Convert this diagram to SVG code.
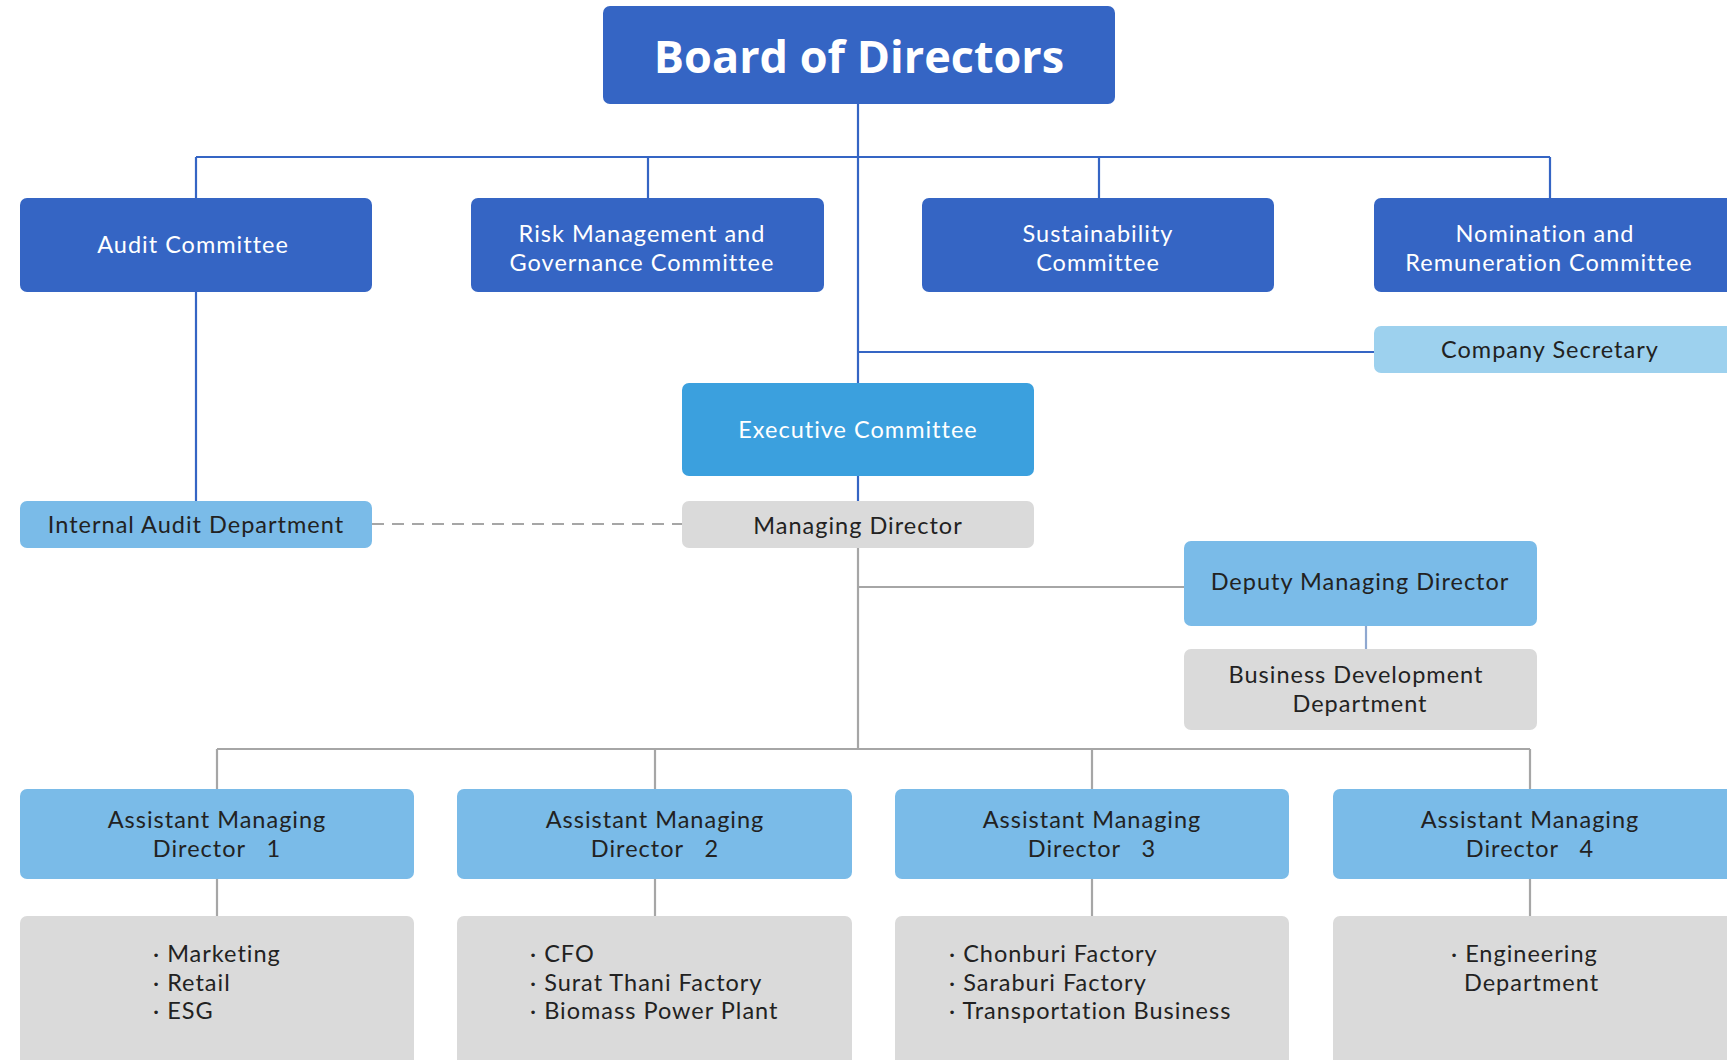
<svg xmlns="http://www.w3.org/2000/svg" width="1727" height="1060" viewBox="0 0 1727 1060">
<style>
.t{font-family:Lato,"Open Sans","Liberation Sans",sans-serif;font-size:23.5px;letter-spacing:1px;text-anchor:middle;white-space:pre}
.w{fill:#ffffff}
.d{fill:#222222}
.l{text-anchor:start}
.dark{fill:#3565C4}
.exec{fill:#3BA0DE}
.lb{fill:#7ABBE8}
.cs{fill:#9DD1EE}
.g{fill:#DADADA}
.bl{stroke:#3565C4;stroke-width:2.2;fill:none}
.gl{stroke:#A6A6A6;stroke-width:2.2;fill:none}
</style>
<rect width="1727" height="1060" fill="#ffffff"/>
<g id="connectors">
<path class="bl" d="M858 104V383M196 157H1550M196 157V198M648 157V198M1099 157V198M1550 157V198M196 292V501M858 352H1374M858 476V501"/>
<path class="gl" d="M858 548V749M858 587H1184M217 749H1530M217 749V789M655 749V789M1092 749V789M1530 749V789M217 879V916M655 879V916M1092 879V916M1530 879V916"/>
<path d="M1366 626V649" stroke="#8FA8D0" stroke-width="2.2"/>
<path d="M372 524H682" stroke="#A6A6A6" stroke-width="2.2" stroke-dasharray="12 8"/>
</g>
<g id="board"><rect class="dark" x="603" y="6" width="512" height="98" rx="7"/><text x="859" y="73" style="font-family:'Open Sans','Liberation Sans',sans-serif;font-size:45px;font-weight:700;fill:#fff;text-anchor:middle">Board of Directors</text></g>
<g id="audit-committee"><rect class="dark" x="20" y="198" width="352" height="94" rx="7"/><text class="t w" x="193" y="253">Audit Committee</text></g>
<g id="risk-committee"><rect class="dark" x="471" y="198" width="353" height="94" rx="7"/><text class="t w" x="642" y="242">Risk Management and</text><text class="t w" x="642" y="271">Governance Committee</text></g>
<g id="sustainability-committee"><rect class="dark" x="922" y="198" width="352" height="94" rx="7"/><text class="t w" x="1098" y="242">Sustainability</text><text class="t w" x="1098" y="271">Committee</text></g>
<g id="nomination-committee"><rect class="dark" x="1374" y="198" width="360" height="94" rx="7"/><text class="t w" x="1545" y="242">Nomination and</text><text class="t w" x="1549" y="271">Remuneration Committee</text></g>
<g id="company-secretary"><rect class="cs" x="1374" y="326" width="360" height="47" rx="7"/><text class="t d" x="1550" y="358">Company Secretary</text></g>
<g id="executive-committee"><rect class="exec" x="682" y="383" width="352" height="93" rx="7"/><text class="t w" x="858" y="438">Executive Committee</text></g>
<g id="internal-audit"><rect class="lb" x="20" y="501" width="352" height="47" rx="7"/><text class="t d" x="196" y="533">Internal Audit Department</text></g>
<g id="managing-director"><rect class="g" x="682" y="501" width="352" height="47" rx="7"/><text class="t d" x="858" y="534">Managing Director</text></g>
<g id="deputy-md"><rect class="lb" x="1184" y="541" width="353" height="85" rx="7"/><text class="t d" x="1360" y="590">Deputy Managing Director</text></g>
<g id="business-development"><rect class="g" x="1184" y="649" width="353" height="81" rx="7"/><text class="t d" x="1356" y="683">Business Development</text><text class="t d" x="1360" y="712">Department</text></g>
<g id="amd1"><rect class="lb" x="20" y="789" width="394" height="90" rx="7"/><text class="t d" x="217" y="828">Assistant Managing</text><text class="t d" x="217" y="857">Director   1</text></g>
<g id="amd2"><rect class="lb" x="457" y="789" width="395" height="90" rx="7"/><text class="t d" x="655" y="828">Assistant Managing</text><text class="t d" x="655" y="857">Director   2</text></g>
<g id="amd3"><rect class="lb" x="895" y="789" width="394" height="90" rx="7"/><text class="t d" x="1092" y="828">Assistant Managing</text><text class="t d" x="1092" y="857">Director   3</text></g>
<g id="amd4"><rect class="lb" x="1333" y="789" width="400" height="90" rx="7"/><text class="t d" x="1530" y="828">Assistant Managing</text><text class="t d" x="1530" y="857">Director   4</text></g>
<g id="list1"><rect class="g" x="20" y="916" width="394" height="160" rx="7"/><text class="t d l" x="153" y="962">· Marketing</text><text class="t d l" x="153" y="991">· Retail</text><text class="t d l" x="153" y="1019">· ESG</text></g>
<g id="list2"><rect class="g" x="457" y="916" width="395" height="160" rx="7"/><text class="t d l" x="530" y="962">· CFO</text><text class="t d l" x="530" y="991">· Surat Thani Factory</text><text class="t d l" x="530" y="1019">· Biomass Power Plant</text></g>
<g id="list3"><rect class="g" x="895" y="916" width="394" height="160" rx="7"/><text class="t d l" x="949" y="962">· Chonburi Factory</text><text class="t d l" x="949" y="991">· Saraburi Factory</text><text class="t d l" x="949" y="1019">· Transportation Business</text></g>
<g id="list4"><rect class="g" x="1333" y="916" width="400" height="160" rx="7"/><text class="t d l" x="1451" y="962">· Engineering</text><text class="t d l" x="1464" y="991">Department</text></g>
</svg>
